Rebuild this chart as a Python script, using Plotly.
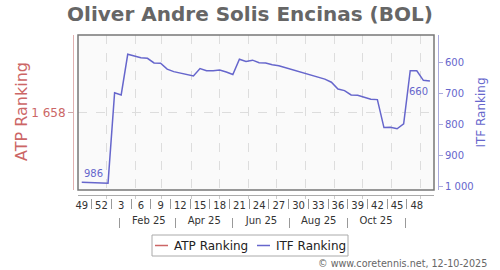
import pandas as pd
import plotly.graph_objects as go

# ---- data -------------------------------------------------------------
FIRST_WEEK_MONDAY = "2024-12-02"   # week 49 of 2024
ITF_RANK = [986, 987, 988, 988, 989, 698, 705, 574, 580, 585, 587, 602, 603,
            622, 630, 634, 639, 644, 620, 627, 627, 625, 631, 639, 590, 597,
            593, 601, 602, 608, 611, 617, 623, 628, 634, 641, 647, 654, 664,
            686, 691, 705, 706, 713, 719, 720, 810, 809, 814, 798, 627, 627,
            658, 660]
ATP_RANK = [1658]                  # only the latest week
SERIES_NAMES = ["ATP Ranking", "ITF Ranking"]
WEEK_LABELS = ["49", "52", "3", "6", "9", "12", "15", "18", "21", "24", "27",
               "30", "33", "36", "39", "42", "45", "48"]
MONTH_LABELS = ["Feb 25", "Apr 25", "Jun 25", "Aug 25", "Oct 25"]
MONTH_LABEL_DATES = ["2025-02-15", "2025-04-15", "2025-06-15", "2025-08-15", "2025-10-15"]
MONTH_SEP_DATES = ["2025-01-15", "2025-03-15", "2025-05-15", "2025-07-15",
                   "2025-09-15", "2025-11-15"]
ITF_TICKS = [600, 700, 800, 900, 1000]
ITF_TICKTEXT = ["600", "700", "800", "900", "1 000"]

# ---- derived positions --------------------------------------------------
mondays = pd.date_range(FIRST_WEEK_MONDAY, periods=len(ITF_RANK), freq="7D")
centers = mondays + pd.Timedelta(hours=84)          # mid-week
week_tick_vals = list(centers[::3])
week_sep_vals = list(mondays[2::3])[:len(WEEK_LABELS) - 1]
XRANGE = ["2024-12-01 12:00", "2025-12-15 20:00"]

ATP_C = "#cc6666"
ITF_C = "#6666cc"
FONT = "DejaVu Sans"

H = 270.0
TOP = 35.0
L = 73.0
PW = 365.0
def ypos(px):
    return (H - px) / (H - TOP)
def xpos(px):
    return (px - L) / PW

fig = go.Figure()
fig.add_trace(go.Scatter(x=list(centers[-len(ATP_RANK):]), y=ATP_RANK, name=SERIES_NAMES[0],
                         mode="lines", line=dict(color=ATP_C, width=1.5),
                         xaxis="x", yaxis="y", hoverinfo="skip", showlegend=False))
fig.add_trace(go.Scatter(x=list(centers), y=ITF_RANK, name=SERIES_NAMES[1],
                         mode="lines", line=dict(color=ITF_C, width=1.5),
                         xaxis="x", yaxis="y2", showlegend=False))

common_x = dict(type="date", range=XRANGE, fixedrange=True)

fig.update_layout(
    width=500, height=270,
    margin=dict(l=73, r=62, t=35, b=0, autoexpand=False),
    paper_bgcolor="white", plot_bgcolor="#fafafa",
    font=dict(family=FONT, size=10, color="#333"),
    title=dict(text="<b>Oliver Andre Solis Encinas (BOL)</b>", x=0.5, xref="container",
               y=1 - 14 / H, yref="container", xanchor="center", yanchor="middle",
               font=dict(size=20, color="#666", family=FONT)),
    showlegend=False,
    xaxis=dict(**common_x, domain=[xpos(78), xpos(434)], anchor="y",
               showgrid=True, gridcolor="#dddddd", griddash="dash", gridwidth=1,
               tick0="2025-01-01", dtick="M1", ticks="", showticklabels=False,
               showline=False, zeroline=False),
    xaxis2=dict(**common_x, overlaying="x", anchor="free", position=ypos(195),
                showline=True, linecolor="#aaaaaa", linewidth=1,
                tick0="2025-01-01", dtick="M1", ticks="outside", ticklen=3,
                tickcolor="#cccccc", showticklabels=False, showgrid=False),
    xaxis3=dict(**common_x, overlaying="x", anchor="free", position=ypos(198),
                showline=False, showgrid=False, tickmode="array",
                tickvals=week_tick_vals, ticktext=WEEK_LABELS, ticks="",
                tickfont=dict(size=10, color="#333"),
                minor=dict(tickmode="array", tickvals=week_sep_vals, ticks="outside",
                           ticklen=10, tickcolor="#999", showgrid=False)),
    xaxis4=dict(**common_x, overlaying="x", anchor="free", position=ypos(217),
                showline=False, showgrid=False, tickmode="array",
                tickvals=MONTH_LABEL_DATES, ticktext=MONTH_LABELS, ticks="",
                tickfont=dict(size=10, color="#333"), ticklabelstandoff=-4,
                minor=dict(tickmode="array", tickvals=MONTH_SEP_DATES, ticks="outside",
                           ticklen=10, tickcolor="#999", showgrid=False)),
    yaxis=dict(domain=[ypos(190), 1], anchor="free", position=0, side="left",
               range=[1758, 1558], tickmode="array", tickvals=[1658], ticktext=["1 658"],
               tickfont=dict(size=12, color=ATP_C), ticks="outside", ticklen=5,
               tickcolor="#ccaaaa", showline=True, linecolor="#e0b0b0", linewidth=1,
               showgrid=True, gridcolor="#dddddd", griddash="dash", zeroline=False,
               fixedrange=True),
    yaxis2=dict(overlaying="y", anchor="free", position=1, side="right",
                range=[1011, 512], tickmode="array", tickvals=ITF_TICKS,
                ticktext=ITF_TICKTEXT, tickfont=dict(size=10, color=ITF_C),
                ticks="outside", ticklen=4, tickcolor="#aaaadd", showline=True,
                linecolor="#aaaadd", linewidth=1, showgrid=False, zeroline=False,
                title=dict(text="ITF Ranking", font=dict(size=12, color=ITF_C), standoff=3),
                fixedrange=True),
)

# overlay axes need a trace each to be drawn
for ax in ("x2", "x3", "x4"):
    fig.add_trace(go.Scatter(x=[centers[0]], y=[ITF_RANK[0]], xaxis=ax, yaxis="y2",
                             mode="markers", marker=dict(opacity=0), showlegend=False,
                             hoverinfo="skip"))

# left axis title
fig.add_annotation(text="ATP Ranking", xref="paper", yref="paper", x=xpos(21), y=ypos(112),
                   textangle=-90, xanchor="center", yanchor="middle", showarrow=False,
                   font=dict(size=16, color=ATP_C))

# plot frame
fig.add_shape(type="rect", xref="x domain", yref="y domain", x0=0, x1=1, y0=0, y1=1,
              line=dict(color="#777777", width=1.5), layer="above")

# value labels at first and last point
fig.add_annotation(x=centers[0], y=ITF_RANK[0], xref="x", yref="y2", text=str(ITF_RANK[0]),
                   showarrow=False, xanchor="left", yanchor="bottom", yshift=1,
                   font=dict(size=10, color=ITF_C))
fig.add_annotation(x=centers[-1], y=ITF_RANK[-1], xref="x", yref="y2", text=str(ITF_RANK[-1]),
                   showarrow=False, xanchor="right", yanchor="top", yshift=-3,
                   font=dict(size=10, color=ITF_C))

# compact legend box
fig.add_shape(type="rect", xref="paper", yref="paper", x0=xpos(152), x1=xpos(348),
              y0=ypos(256), y1=ypos(235), line=dict(color="#aaaaaa", width=1),
              fillcolor="white", layer="above")
for (lx0, lx1, tx), name, col in zip([(155, 168, 172), (257, 270, 274)], SERIES_NAMES,
                                     [ATP_C, ITF_C]):
    fig.add_shape(type="line", xref="paper", yref="paper", x0=xpos(lx0), x1=xpos(lx1),
                  y0=ypos(245.5), y1=ypos(245.5), line=dict(color=col, width=1.5),
                  layer="above")
    fig.add_annotation(text=name, xref="paper", yref="paper", x=xpos(tx), y=ypos(245.5),
                       xanchor="left", yanchor="middle", showarrow=False,
                       font=dict(size=12, color="#222"))

fig.add_annotation(text="© www.coretennis.net, 12-10-2025", xref="paper", yref="paper",
                   x=xpos(489), y=ypos(263), xanchor="right", yanchor="middle",
                   showarrow=False, font=dict(size=9.6, color="#666"))

fig.write_html("out.html")
